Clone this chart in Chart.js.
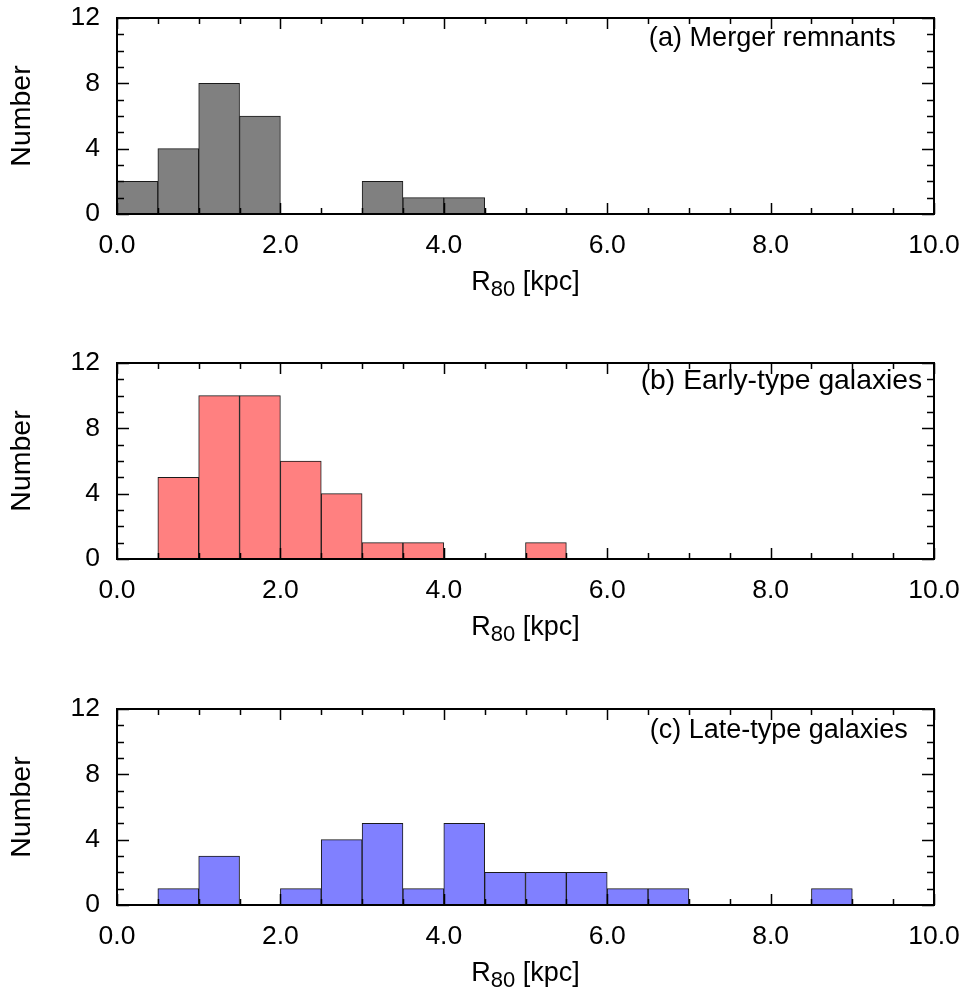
<!DOCTYPE html>
<html>
<head>
<meta charset="utf-8">
<script src="https://cdn.jsdelivr.net/npm/chart.js@4.4.1/dist/chart.umd.min.js"></script>
<style>
  html, body { margin: 0; padding: 0; background: #fff; }
  #wrap { position: relative; width: 964px; height: 995px; }
  canvas { position: absolute; left: 0; }
</style>
</head>
<body>
<div id="wrap">
  <canvas id="cA" width="964" height="345" style="top:0px"></canvas>
  <canvas id="cB" width="964" height="346" style="top:345px"></canvas>
  <canvas id="cC" width="964" height="304" style="top:691px"></canvas>
</div>
<script>
// ---- data ----
const binStarts = [0, 0.5, 1, 1.5, 2, 2.5, 3, 3.5, 4, 4.5, 5, 5.5, 6, 6.5, 7, 7.5, 8, 8.5, 9, 9.5];
const binWidth = 0.5;
const countsMerger = [2, 4, 8, 6, 0, 0, 2, 1, 1, 0, 0, 0, 0, 0, 0, 0, 0, 0, 0, 0];
const countsEarly  = [0, 5, 10, 10, 6, 4, 1, 1, 0, 0, 1, 0, 0, 0, 0, 0, 0, 0, 0, 0];
const countsLate   = [0, 1, 3, 0, 1, 4, 5, 1, 5, 2, 2, 2, 1, 1, 0, 0, 0, 1, 0, 0];
const xTickValues = [0, 2, 4, 6, 8, 10];
const xTickLabels = ['0.0', '2.0', '4.0', '6.0', '8.0', '10.0'];
const yTickValues = [0, 4, 8, 12];
const yTickLabels = ['0', '4', '8', '12'];
const panelLabels = ['(a) Merger remnants', '(b) Early-type galaxies', '(c) Late-type galaxies'];
const yTitle = 'Number';
const xTitleMain = 'R', xTitleSub = '80', xTitleRest = ' [kpc]';

const FAM = "'Liberation Sans', Arial, Helvetica, sans-serif";
Chart.defaults.font.family = FAM;
Chart.defaults.color = '#000';

const FONT = 26.5;
const PLOT_TOP = 18, PLOT_H = 196;

const framePlugin = {
  id: 'frame',
  afterDraw(chart, args, opts) {
    const ctx = chart.ctx;
    const a = chart.chartArea;
    const xs = chart.scales.x, ys = chart.scales.y;
    ctx.save();
    ctx.strokeStyle = '#000';
    // ticks (inward, all sides)
    ctx.lineWidth = 1.5;
    ctx.beginPath();
    for (let v = 0; v <= 10.0001; v += 0.5) {
      const px = Math.round(xs.getPixelForValue(v)) + 0.5;
      const major = xTickValues.some(t => Math.abs(t - v) < 1e-6);
      const len = major ? 11 : 6;
      ctx.moveTo(px, a.bottom); ctx.lineTo(px, a.bottom - len);
      ctx.moveTo(px, a.top); ctx.lineTo(px, a.top + len);
    }
    for (let v = 0; v <= 12.0001; v += 1) {
      const py = Math.round(ys.getPixelForValue(v)) + 0.5;
      const major = yTickValues.indexOf(v) >= 0;
      const len = major ? 12 : 7;
      ctx.moveTo(a.left, py); ctx.lineTo(a.left + len, py);
      ctx.moveTo(a.right, py); ctx.lineTo(a.right - len, py);
    }
    ctx.stroke();
    // frame
    ctx.lineWidth = 2;
    ctx.strokeRect(a.left, a.top, a.right - a.left, a.bottom - a.top);
    // panel label
    ctx.fillStyle = '#000';
    ctx.font = opts.labelSize + 'px ' + FAM;
    ctx.textAlign = 'left';
    ctx.textBaseline = 'alphabetic';
    ctx.fillText(opts.label, xs.getPixelForValue(opts.labelX), a.top + opts.labelDy);
    // x axis title with subscript
    const mainFont = '27px ' + FAM;
    const subFont = '22px ' + FAM;
    ctx.font = mainFont; const w1 = ctx.measureText(xTitleMain).width;
    const w3 = ctx.measureText(xTitleRest).width;
    ctx.font = subFont; const w2 = ctx.measureText(xTitleSub).width;
    const total = w1 + w2 + w3;
    const x0 = (a.left + a.right) / 2 - total / 2;
    const by = a.bottom + 76;
    ctx.font = mainFont; ctx.fillText(xTitleMain, x0, by);
    ctx.font = subFont; ctx.fillText(xTitleSub, x0 + w1, by + 6);
    ctx.font = mainFont; ctx.fillText(xTitleRest, x0 + w1 + w2, by);
    ctx.restore();
  }
};

function zeroPad(s) { s.paddingTop = 0; s.paddingBottom = 0; s.paddingLeft = 0; s.paddingRight = 0; }

function makePanel(id, counts, fill, label, labelX, labelDy, labelSize, canvasH) {
  const data = binStarts.map((s, i) => ({ x: s + binWidth / 2, y: counts[i] }));
  return new Chart(document.getElementById(id), {
    type: 'bar',
    data: {
      datasets: [{
        data: data,
        backgroundColor: fill,
        borderColor: '#1a1a1a',
        borderWidth: 1,
        borderSkipped: 'start',
        barPercentage: 1.0,
        categoryPercentage: 1.0
      }]
    },
    options: {
      responsive: false,
      animation: false,
      events: [],
      layout: { padding: { top: PLOT_TOP, right: 30, left: 0, bottom: 0 } },
      plugins: {
        legend: { display: false },
        tooltip: { enabled: false },
        frame: { label: label, labelX: labelX, labelDy: labelDy, labelSize: labelSize }
      },
      scales: {
        x: {
          type: 'linear',
          min: 0, max: 10,
          offset: false,
          grid: { display: false, drawTicks: false },
          border: { display: false },
          afterBuildTicks: (s) => { s.ticks = xTickValues.map(v => ({ value: v })); },
          ticks: {
            autoSkip: false, maxRotation: 0, padding: 16,
            font: { size: FONT },
            callback: (v, i) => xTickLabels[i]
          },
          afterFit: (s) => { s.height = canvasH - PLOT_TOP - PLOT_H; zeroPad(s); }
        },
        y: {
          min: 0, max: 12,
          grid: { display: false, drawTicks: false },
          border: { display: false },
          afterBuildTicks: (s) => { s.ticks = yTickValues.map(v => ({ value: v })); },
          ticks: {
            autoSkip: false, padding: 17,
            font: { size: FONT },
            callback: (v, i) => yTickLabels[i]
          },
          title: { display: true, text: yTitle, font: { size: 28.5 }, padding: { top: 5, bottom: 0 } },
          afterFit: (s) => { s.width = 117; zeroPad(s); }
        }
      }
    },
    plugins: [framePlugin]
  });
}

makePanel('cA', countsMerger, '#808080', panelLabels[0], 6.51, 27.5, 27.1, 345);
makePanel('cB', countsEarly,  '#ff8080', panelLabels[1], 6.41, 25.7, 28.3, 346);
makePanel('cC', countsLate,   '#8080ff', panelLabels[2], 6.52, 29, 27, 304);
</script>
</body>
</html>
